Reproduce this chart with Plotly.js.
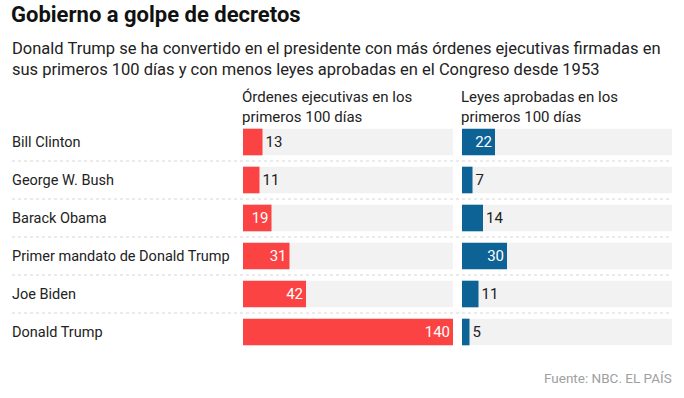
<!DOCTYPE html>
<html>
<head>
<meta charset="utf-8">
<script src="https://cdn.plot.ly/plotly-3.0.1.min.js"></script>
<style>
html,body{margin:0;padding:0;background:#fff;}
#chart{width:684px;height:398px;}
</style>
</head>
<body>
<div id="chart"></div>
<script>
const presidents = ["Bill Clinton", "George W. Bush", "Barack Obama", "Primer mandato de Donald Trump", "Joe Biden", "Donald Trump"];
const ordenes = [13, 11, 19, 31, 42, 140];
const leyes = [22, 7, 14, 30, 11, 5];
const scaleMax = 140;
const titleText = "Gobierno a golpe de decretos";
const subtitleText = "Donald Trump se ha convertido en el presidente con más órdenes ejecutivas firmadas en<br>sus primeros 100 días y con menos leyes aprobadas en el Congreso desde 1953";
const headerLeft = "Órdenes ejecutivas en los<br>primeros 100 días";
const headerRight = "Leyes aprobadas en los<br>primeros 100 días";
const sourceText = "Fuente: NBC. EL PAÍS";

const FONT = "'Roboto', 'Liberation Sans', sans-serif";
const RED = "#fb4343";
const BLUE = "#0d6395";
const BG = "#f2f2f2";
const DARK = "#222";
const insideThreshold = 18;

function valueTrace(vals, color, xa) {
  return {
    type: "bar", orientation: "h",
    y: presidents, x: vals,
    xaxis: xa, yaxis: "y",
    marker: {color: color},
    width: 0.7,
    text: vals.map(String),
    textposition: vals.map(v => v >= insideThreshold ? "inside" : "outside"),
    insidetextanchor: "end",
    insidetextfont: {family: FONT, size: 15, color: "#fff"},
    outsidetextfont: {family: FONT, size: 15, color: DARK},
    textangle: 0,
    cliponaxis: false,
    constraintext: "none",
    hoverinfo: "skip"
  };
}
function bgTrace(xa) {
  return {
    type: "bar", orientation: "h",
    y: presidents, x: presidents.map(() => scaleMax),
    xaxis: xa, yaxis: "y",
    marker: {color: BG}, width: 0.7,
    hoverinfo: "skip", textposition: "none"
  };
}

const traces = [bgTrace("x"), bgTrace("x2"), valueTrace(ordenes, RED, "x"), valueTrace(leyes, BLUE, "x2")];

const W = 684;
const shapes = [];
for (let i = 0; i < presidents.length - 1; i++) {
  shapes.push({type: "line", xref: "paper", yref: "y", x0: 12 / W, x1: 672 / W, y0: i + 0.5, y1: i + 0.5,
    line: {color: "#d6d6d6", width: 1, dash: "dot"}});
}

const annotations = [];
presidents.forEach((p, i) => {
  annotations.push({xref: "paper", yref: "y", x: 10 / W, y: i, xanchor: "left", yanchor: "middle", showarrow: false,
    text: p, font: {family: FONT, size: 14.5, color: DARK}});
});
annotations.push({xref: "paper", yref: "paper", x: 240 / W, y: 1, yshift: -5, xanchor: "left", yanchor: "bottom", showarrow: false, align: "left",
  text: headerLeft, font: {family: FONT, size: 15, color: DARK}});
annotations.push({xref: "paper", yref: "paper", x: 459 / W, y: 1, yshift: -5, xanchor: "left", yanchor: "bottom", showarrow: false, align: "left",
  text: headerRight, font: {family: FONT, size: 15, color: DARK}});
annotations.push({xref: "paper", yref: "paper", x: 674 / W, y: 0, yshift: -17, xanchor: "right", yanchor: "top", showarrow: false,
  text: sourceText, font: {family: FONT, size: 13.5, color: "#a0a0a0"}});
annotations.push({xref: "paper", yref: "paper", x: 10 / W, y: 1, yshift: 42, xanchor: "left", yanchor: "bottom", showarrow: false, align: "left",
  text: subtitleText, font: {family: FONT, size: 16.5, color: DARK}});

const layout = {
  width: 684, height: 398,
  margin: {l: 0, r: 0, t: 123, b: 47},
  paper_bgcolor: "#fff", plot_bgcolor: "#fff",
  showlegend: false,
  barmode: "overlay",
  title: {text: "<b>" + titleText + "</b>", x: 11 / W, xanchor: "left", y: 1 - 7 / 398, yanchor: "top",
    font: {family: FONT, size: 22, color: "#111"}},
  xaxis: {domain: [243 / W, 453 / W], range: [0, scaleMax], visible: false, fixedrange: true},
  xaxis2: {domain: [462 / W, 672 / W], range: [0, scaleMax], visible: false, fixedrange: true, anchor: "y"},
  yaxis: {range: [presidents.length - 0.5, -0.5], visible: false, type: "category", fixedrange: true},
  shapes: shapes,
  annotations: annotations
};

Plotly.newPlot("chart", traces, layout, {displayModeBar: false, staticPlot: true});
</script>
</body>
</html>
